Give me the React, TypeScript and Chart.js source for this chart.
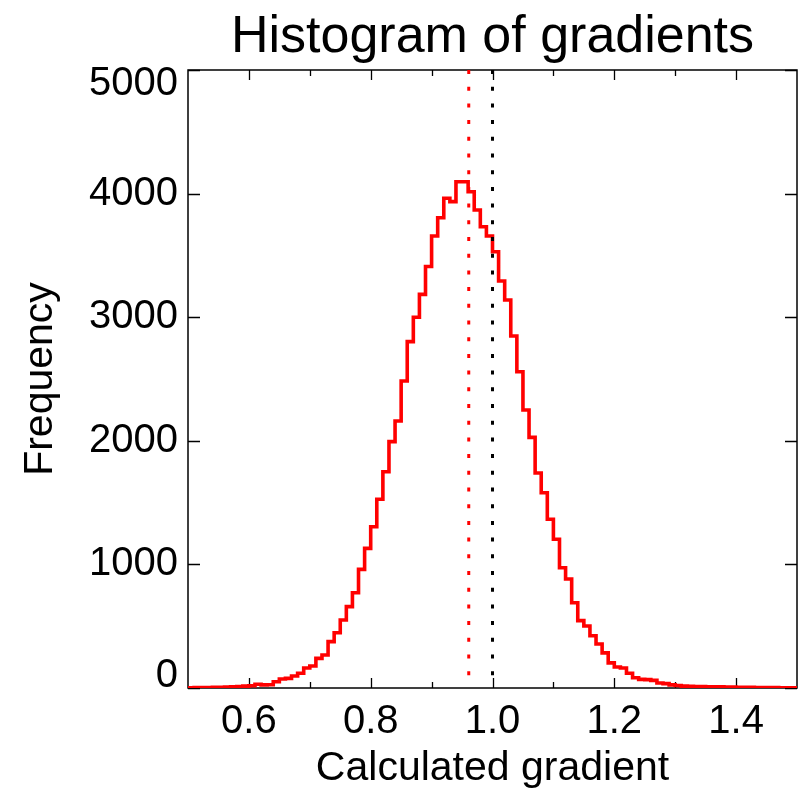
import React, { useEffect, useRef } from 'react';
import { Chart, registerables } from 'chart.js';

Chart.register(...registerables);

// ---- Data ----
const TITLE = 'Histogram of gradients';
const X_TITLE = 'Calculated gradient';
const Y_TITLE = 'Frequency';

const BIN_START = 0.5;
const BIN_WIDTH = 0.01;
// Frequency per bin (0.50-0.51, 0.51-0.52, ... 1.49-1.50)
const COUNTS = [
  2, 2, 3, 3, 4, 5, 6, 8, 10, 12,
  15, 18, 30, 25, 26, 51, 73, 78, 97, 119,
  162, 178, 240, 267, 375, 447, 550, 658, 771, 960,
  1130, 1305, 1527, 1750, 1993, 2160, 2484, 2802, 2999, 3185,
  3410, 3657, 3805, 3962, 3935, 4096, 4096, 4015, 3867, 3732,
  3657, 3530, 3293, 3139, 2848, 2559, 2249, 2028, 1740, 1580,
  1365, 1203, 973, 882, 690, 545, 502, 423, 356, 284,
  203, 170, 162, 119, 83, 70, 68, 62, 40, 35,
  25, 20, 15, 14, 12, 12, 10, 10, 9, 8,
  7, 6, 5, 5, 4, 4, 3, 3, 2, 2,
];

const X_MIN = 0.5;
const X_MAX = 1.5;
const Y_MIN = 0;
const Y_MAX = 5000;
const X_LABEL_TICKS = [0.6, 0.8, 1.0, 1.2, 1.4];
const X_MINOR_TICKS = [0.7, 0.9, 1.1, 1.3];
const Y_TICKS = [0, 1000, 2000, 3000, 4000, 5000];

const MEAN_GRADIENT = 0.961;
const TRUE_GRADIENT = 1.0;

const FONT_FAMILY = '"Liberation Sans", Arial, Helvetica, sans-serif';
const TICK_FONT_SIZE = 40;

const framePlugin = {
  id: 'frameTicks',
  beforeDatasetsDraw(chart: any) {
    const { ctx, chartArea, scales } = chart;
    const { left, right, top, bottom } = chartArea;
    const x = scales.x;
    const y = scales.y;
    ctx.save();
    ctx.strokeStyle = '#000';
    ctx.lineWidth = 1.5;
    ctx.strokeRect(left, top, right - left, bottom - top);
    ctx.lineWidth = 1.3;
    ctx.beginPath();
    for (const v of X_LABEL_TICKS) {
      const px = Math.round(x.getPixelForValue(v)) + 0.5;
      ctx.moveTo(px, bottom);
      ctx.lineTo(px, bottom - 10);
      ctx.moveTo(px, top);
      ctx.lineTo(px, top + 10);
    }
    for (const v of X_MINOR_TICKS) {
      const px = Math.round(x.getPixelForValue(v)) + 0.5;
      ctx.moveTo(px, bottom);
      ctx.lineTo(px, bottom - 6);
      ctx.moveTo(px, top);
      ctx.lineTo(px, top + 6);
    }
    for (const v of Y_TICKS) {
      const py = Math.round(y.getPixelForValue(v)) + 0.5;
      ctx.moveTo(left, py);
      ctx.lineTo(left + 12, py);
      ctx.moveTo(right, py);
      ctx.lineTo(right - 12, py);
    }
    ctx.stroke();
    ctx.restore();
  },
  afterDraw(chart: any) {
    // y tick labels, kept inside the vertical extent of the plot box
    const { ctx, chartArea, scales } = chart;
    const { left, top, bottom } = chartArea;
    const y = scales.y;
    ctx.save();
    ctx.fillStyle = '#000';
    ctx.font = `${TICK_FONT_SIZE}px ${FONT_FAMILY}`;
    ctx.textAlign = 'right';
    ctx.textBaseline = 'middle';
    for (const v of Y_TICKS) {
      let py = y.getPixelForValue(v);
      py = Math.min(Math.max(py, top + 14), bottom - 12);
      ctx.fillText(String(v), left - 10, py);
    }
    ctx.restore();
  },
};

export default function App() {
  const ref = useRef<HTMLCanvasElement | null>(null);

  useEffect(() => {
    if (!ref.current) return;
    const histPoints = COUNTS.map((c, i) => ({ x: BIN_START + i * BIN_WIDTH, y: c }));
    histPoints.push({ x: BIN_START + COUNTS.length * BIN_WIDTH, y: COUNTS[COUNTS.length - 1] });

    const chart = new Chart(ref.current, {
      type: 'line',
      data: {
        datasets: [
          {
            label: 'true',
            data: [
              { x: TRUE_GRADIENT, y: Y_MAX },
              { x: TRUE_GRADIENT, y: Y_MIN },
            ],
            borderColor: '#000000',
            borderWidth: 3,
            borderDash: [4, 12.7],
            pointRadius: 0,
            fill: false,
            order: 0,
          },
          {
            label: 'mean',
            data: [
              { x: MEAN_GRADIENT, y: Y_MAX },
              { x: MEAN_GRADIENT, y: Y_MIN },
            ],
            borderColor: '#ff0000',
            borderWidth: 3,
            borderDash: [4, 12.7],
            pointRadius: 0,
            fill: false,
            order: 1,
          },
          {
            label: 'hist',
            data: histPoints,
            stepped: 'after',
            borderColor: '#ff0000',
            borderWidth: 3.6,
            pointRadius: 0,
            fill: false,
            order: 2,
          },
        ],
      },
      options: {
        animation: false,
        responsive: false,
        events: [],
        layout: { padding: { left: 0, right: 2, top: 0, bottom: 0 } },
        plugins: {
          legend: { display: false },
          tooltip: { enabled: false },
          title: {
            display: true,
            text: TITLE,
            fullSize: false,
            color: '#000',
            font: { family: FONT_FAMILY, size: 52, weight: 'normal', lineHeight: 1.2 },
            padding: { top: 6, bottom: 1.6 },
          },
        },
        scales: {
          x: {
            type: 'linear',
            min: X_MIN,
            max: X_MAX,
            afterBuildTicks: (s: any) => {
              s.ticks = X_LABEL_TICKS.map((v) => ({ value: v }));
            },
            ticks: {
              autoSkip: false,
              maxRotation: 0,
              padding: 10,
              color: '#000',
              font: { family: FONT_FAMILY, size: TICK_FONT_SIZE },
              callback: (v: any) => Number(v).toFixed(1),
            },
            grid: { display: false, drawTicks: false },
            border: { display: false },
            title: {
              display: true,
              text: X_TITLE,
              color: '#000',
              font: { family: FONT_FAMILY, size: 41, lineHeight: 1.2 },
              padding: { top: 0, bottom: 0 },
            },
            afterFit: (s: any) => {
              s.height = 105;
            },
          },
          y: {
            type: 'linear',
            min: Y_MIN,
            max: Y_MAX,
            afterBuildTicks: (s: any) => {
              s.ticks = Y_TICKS.map((v) => ({ value: v }));
            },
            ticks: { display: false },
            grid: { display: false, drawTicks: false },
            border: { display: false },
            title: {
              display: true,
              text: Y_TITLE,
              color: '#000',
              font: { family: FONT_FAMILY, size: 41, lineHeight: 1.2 },
              padding: { top: 16, bottom: 0 },
            },
            afterFit: (s: any) => {
              s.width = 188;
            },
          },
        },
      },
      plugins: [framePlugin],
    });
    return () => chart.destroy();
  }, []);

  return (
    <div style={{ position: 'absolute', left: 0, top: 0, width: 799, height: 793, background: '#fff' }}>
      <canvas ref={ref} width={799} height={793} style={{ display: 'block' }} />
    </div>
  );
}
